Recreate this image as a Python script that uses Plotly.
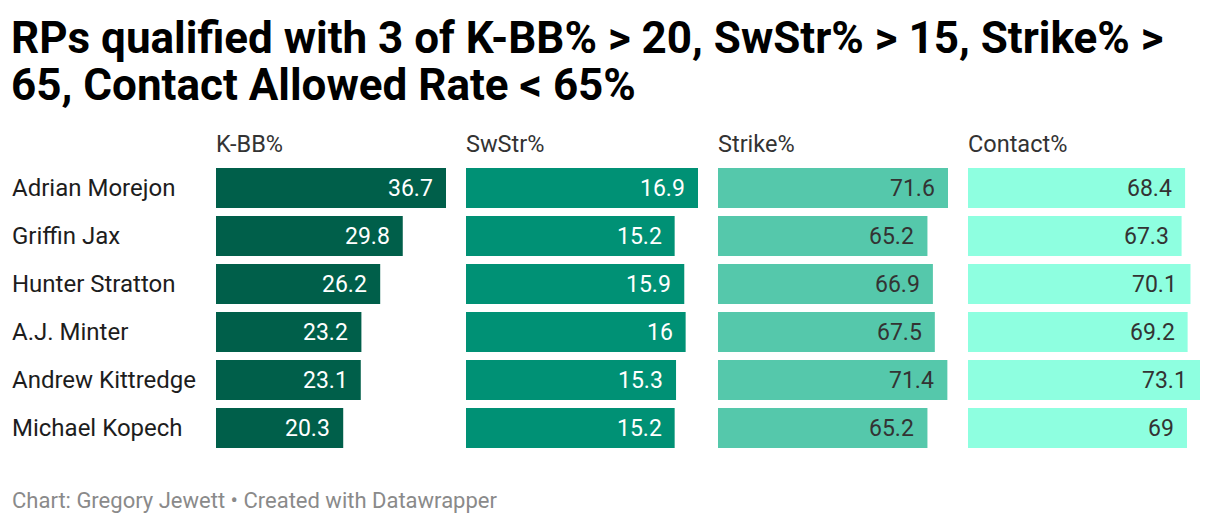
import plotly.graph_objects as go

players = ["Adrian Morejon", "Griffin Jax", "Hunter Stratton", "A.J. Minter",
           "Andrew Kittredge", "Michael Kopech"]
k_bb = [36.7, 29.8, 26.2, 23.2, 23.1, 20.3]
swstr = [16.9, 15.2, 15.9, 16, 15.3, 15.2]
strike = [71.6, 65.2, 66.9, 67.5, 71.4, 65.2]
contact = [68.4, 67.3, 70.1, 69.2, 73.1, 69]
headers = ["K-BB%", "SwStr%", "Strike%", "Contact%"]

series = [k_bb, swstr, strike, contact]
colors = ["#005f4a", "#009175", "#55c8ab", "#8effe0"]
text_colors = ["#ffffff", "#ffffff", "#333333", "#333333"]

W, H = 1220, 524
col_px = [(216, 446), (466, 698), (718, 948), (968, 1200)]
top_px, bot_px = 164, 452

FONT = "Roboto"

fig = go.Figure()
annotations = []
layout_axes = {}


def py(pix):
    return (bot_px - pix) / (bot_px - top_px)


for i, (vals, col, tcol, hdr) in enumerate(zip(series, colors, text_colors, headers)):
    n = "" if i == 0 else str(i + 1)
    fig.add_trace(go.Bar(
        x=vals, y=players, orientation="h",
        marker=dict(color=col, line=dict(width=0)),
        xaxis="x" + n, yaxis="y",
        hoverinfo="x+y", showlegend=False,
    ))
    x0, x1 = col_px[i]
    layout_axes["xaxis" + n] = dict(
        domain=[x0 / W, x1 / W], range=[0, max(vals)],
        visible=False, fixedrange=True, anchor="y",
    )
    for p, v in zip(players, vals):
        annotations.append(dict(
            x=v, y=p, xref="x" + n, yref="y", text=str(v),
            xanchor="right", yanchor="middle", xshift=-11, showarrow=False,
            font=dict(family=FONT, size=23, color=tcol),
        ))
    annotations.append(dict(
        x=x0 / W, y=py(144), xref="paper", yref="paper",
        text=hdr, xanchor="left", yanchor="middle", showarrow=False,
        xshift=-2,
        font=dict(family=FONT, size=23.5, color="#333333"),
    ))

for p in players:
    annotations.append(dict(
        x=12 / W, y=p, xref="paper", yref="y", text=p,
        xanchor="left", yanchor="middle", showarrow=False, xshift=-2,
        font=dict(family=FONT, size=24, color="#1d1d1d"),
    ))

annotations.append(dict(
    x=12 / W, y=py(38), xref="paper", yref="paper",
    text="<b>RPs qualified with 3 of K-BB% > 20, SwStr% > 15, Strike% ></b>",
    xanchor="left", yanchor="middle", showarrow=False, xshift=-3,
    font=dict(family=FONT, size=44, color="#000000"),
))
annotations.append(dict(
    x=12 / W, y=py(85), xref="paper", yref="paper",
    text="<b>65, Contact Allowed Rate < 65%</b>",
    xanchor="left", yanchor="middle", showarrow=False, xshift=-3,
    font=dict(family=FONT, size=44, color="#000000"),
))
annotations.append(dict(
    x=12 / W, y=py(500), xref="paper", yref="paper",
    text="Chart: Gregory Jewett • Created with Datawrapper",
    xanchor="left", yanchor="middle", showarrow=False, xshift=-2,
    font=dict(family=FONT, size=22, color="#8a8a8a"),
))

fig.update_layout(
    width=W, height=H,
    margin=dict(l=0, r=0, t=top_px, b=H - bot_px, pad=0),
    paper_bgcolor="#ffffff", plot_bgcolor="#ffffff",
    bargap=8 / 48,
    yaxis=dict(autorange="reversed", visible=False, fixedrange=True,
               categoryorder="array", categoryarray=players),
    annotations=annotations,
    font=dict(family=FONT),
    **layout_axes,
)

fig.write_html("out.html", config={"displayModeBar": False},
               post_script="document.body.style.margin='0';document.body.style.overflow='hidden';")
